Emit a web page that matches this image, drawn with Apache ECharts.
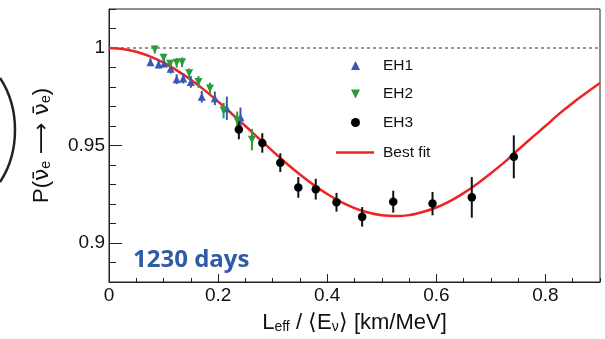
<!DOCTYPE html>
<html><head><meta charset="utf-8">
<script src="https://cdn.jsdelivr.net/npm/echarts@6/dist/echarts.min.js"></script>
<style>html,body{margin:0;padding:0;background:#fff}#c{width:605px;height:339px}</style>
</head><body><div id="c"></div>
<script>
// EH1 (blue, up triangles)
const eh1L = [0.076, 0.091, 0.101, 0.113, 0.124, 0.136, 0.150, 0.170, 0.194, 0.216, 0.241];
const eh1P = [0.9927, 0.9916, 0.9921, 0.9894, 0.9840, 0.9843, 0.9826, 0.9750, 0.9742, 0.9691, 0.9645];
const eh1E = [0.002, 0.002, 0.002, 0.0025, 0.0025, 0.0025, 0.003, 0.003, 0.0035, 0.006, 0.005];
// EH2 (green, down triangles)
const eh2L = [0.084, 0.100, 0.112, 0.124, 0.134, 0.147, 0.164, 0.185, 0.210, 0.235, 0.262];
const eh2P = [0.9992, 0.9950, 0.9919, 0.9924, 0.9927, 0.9870, 0.9826, 0.9792, 0.9679, 0.9628, 0.9530];
const eh2E = [0.002, 0.002, 0.002, 0.0025, 0.0025, 0.0025, 0.003, 0.003, 0.004, 0.0046, 0.0055];
// EH3 (black circles)
const eh3L = [0.238, 0.281, 0.314, 0.347, 0.379, 0.417, 0.464, 0.521, 0.593, 0.665, 0.742];
const eh3P = [0.9582, 0.9513, 0.9412, 0.9285, 0.9276, 0.9209, 0.9134, 0.9212, 0.9202, 0.9234, 0.9442];
const eh3E = [0.005, 0.005, 0.0048, 0.0053, 0.0053, 0.0048, 0.005, 0.0056, 0.006, 0.0104, 0.011];
// Best fit curve
const fitL = [0, 0.025, 0.05, 0.075, 0.10, 0.125, 0.15, 0.175, 0.20, 0.225, 0.25, 0.275, 0.30, 0.325, 0.35, 0.375,
  0.40, 0.425, 0.45, 0.475, 0.50, 0.525, 0.55, 0.575, 0.60, 0.625, 0.65, 0.675, 0.70, 0.725, 0.75, 0.775,
  0.80, 0.825, 0.85, 0.875, 0.90];
const fitP = [1.0, 0.9995, 0.9981, 0.9957, 0.9925, 0.9884, 0.9837, 0.9784, 0.9725, 0.9663, 0.9600, 0.9535,
  0.9471, 0.9409, 0.9351, 0.9298, 0.9251, 0.9211, 0.9179, 0.9156, 0.9142, 0.9138, 0.9143, 0.9159, 0.9182,
  0.9215, 0.9256, 0.9304, 0.9358, 0.9415, 0.9478, 0.9540, 0.9600, 0.9662, 0.9718, 0.9770, 0.9820];
// reference line and ticks
const refLineL = [0, 0.9];
const refLineP = [1, 1];
const xTicks = [0, 0.2, 0.4, 0.6, 0.8];
const yTicks = [0.9, 0.95, 1];

const zip2 = (a, b) => a.map((v, i) => [v, b[i]]);
const zip3 = (a, b, c) => a.map((v, i) => [v, b[i], c[i]]);

const BLUE = '#3a56b4', GREEN = '#2b9a3c', RED = '#ee2424';
const FONT = "'Liberation Sans', Arial, Helvetica, sans-serif";

function errRender(color) {
  return function (params, api) {
    const x = api.value(0), y = api.value(1), e = api.value(2);
    const p1 = api.coord([x, y - e]), p2 = api.coord([x, y + e]);
    return { type: 'line', shape: { x1: p1[0], y1: p1[1], x2: p2[0], y2: p2[1] },
      style: { stroke: color, lineWidth: 2 } };
  };
}

const chart = echarts.init(document.getElementById('c'), null, { renderer: 'canvas' });
const axisLabelStyle = { fontSize: 19, color: '#111', fontFamily: FONT };
const legendText = { fontSize: 15.5, color: '#111', fontFamily: FONT, lineHeight: 16 };

chart.setOption({
  animation: false,
  backgroundColor: '#fff',
  grid: { left: 109, right: 5, top: 9, bottom: 55, show: true, borderColor: '#222', borderWidth: 1, containLabel: false },
  title: {
    text: '1230 days', left: 128, top: 243,
    textStyle: { color: '#2f5aa6', fontSize: 24, fontWeight: 'bold', fontFamily: "'Open Sans', sans-serif" }
  },
  legend: [{
    orient: 'vertical', left: 346, top: 52.5, itemWidth: 9, itemHeight: 9, itemGap: 12.5,
    textStyle: { ...legendText, padding: [0, 0, 0, 18] },
    data: [{ name: 'EH1', icon: 'triangle' },
           { name: 'EH2', icon: 'path://M0,0 L10,0 L5,10 Z' },
           { name: 'EH3', icon: 'circle' }]
  }, {
    orient: 'vertical', left: 331, top: 139.5, itemWidth: 38, itemHeight: 2.5,
    textStyle: { ...legendText, padding: [0, 0, 0, 4] },
    data: [{ name: 'Best fit', icon: 'rect' }]
  }],
  graphic: [{
    type: 'bezierCurve',
    shape: { x1: 0, y1: 78, cpx1: 20, cpy1: 108, cpx2: 20, cpy2: 152, x2: 0, y2: 182 },
    style: { stroke: '#222', lineWidth: 2.5, fill: null }
  }],
  xAxis: [{
    type: 'value', min: 0, max: 0.9, position: 'bottom',
    axisLine: { show: true, lineStyle: { color: '#222', width: 1 } },
    axisTick: { show: true, inside: true, length: 8, customValues: xTicks, lineStyle: { color: '#222' } },
    axisLabel: { customValues: xTicks, margin: 4, ...axisLabelStyle, formatter: v => String(v) },
    splitLine: { show: false },
    name: '{l|L}{s|eff}{l| / ⟨E}{s|ν}{l|⟩ [km/MeV]}',
    nameLocation: 'middle', nameGap: 25,
    nameTextStyle: {
      rich: {
        l: { fontSize: 22, color: '#111', fontFamily: FONT, lineHeight: 27, verticalAlign: 'bottom' },
        s: { fontSize: 14, color: '#111', fontFamily: FONT, lineHeight: 14, verticalAlign: 'bottom' }
      }
    }
  }, {
    type: 'value', min: 0, max: 0.9, interval: 0.05, position: 'bottom',
    axisLine: { show: false }, axisLabel: { show: false }, splitLine: { show: false },
    axisTick: { show: true, inside: true, length: 4, lineStyle: { color: '#222' } }
  }],
  yAxis: [{
    type: 'value', min: 0.88, max: 1.02, position: 'left',
    axisLine: { show: true, lineStyle: { color: '#222', width: 1 } },
    axisTick: { show: true, inside: true, length: 13, customValues: yTicks, lineStyle: { color: '#222' } },
    axisLabel: { customValues: yTicks, margin: 4, ...axisLabelStyle, formatter: v => String(v) },
    splitLine: { show: false },
    name: '{l|P(}{v|ν̄}{s|e}{a| ⟶ }{v|ν̄}{s|e}{l|)}',
    nameLocation: 'middle', nameGap: 56,
    nameTextStyle: {
      rich: {
        l: { fontSize: 22, color: '#111', fontFamily: FONT, lineHeight: 27, verticalAlign: 'bottom' },
        a: { fontSize: 22, color: '#111', fontFamily: "'DejaVu Sans', sans-serif", lineHeight: 27, verticalAlign: 'bottom' },
        v: { fontSize: 22, color: '#111', fontFamily: "'DejaVu Sans', sans-serif", lineHeight: 27, verticalAlign: 'bottom' },
        s: { fontSize: 14, color: '#111', fontFamily: FONT, lineHeight: 14, verticalAlign: 'bottom' }
      }
    }
  }, {
    type: 'value', min: 0.88, max: 1.02, interval: 0.01, position: 'left',
    axisLine: { show: false }, axisLabel: { show: false }, splitLine: { show: false },
    axisTick: { show: true, inside: true, length: 7, lineStyle: { color: '#222' } }
  }],
  series: [
    { type: 'line', name: 'ref', data: zip2(refLineL, refLineP), symbol: 'none', silent: true, z: 1,
      lineStyle: { color: '#777', width: 1.5, type: [3, 3] } },
    { type: 'line', name: 'Best fit', data: zip2(fitL, fitP), smooth: 0.3, symbol: 'none', z: 2,
      lineStyle: { color: RED, width: 2.5 }, itemStyle: { color: RED } },
    { type: 'custom', name: 'e1', data: zip3(eh1L, eh1P, eh1E), renderItem: errRender(BLUE), encode: { x: 0, y: 1 }, z: 3 },
    { type: 'custom', name: 'e2', data: zip3(eh2L, eh2P, eh2E), renderItem: errRender(GREEN), encode: { x: 0, y: 1 }, z: 3 },
    { type: 'custom', name: 'e3', data: zip3(eh3L, eh3P, eh3E), renderItem: errRender('#111'), encode: { x: 0, y: 1 }, z: 3 },
    { type: 'scatter', name: 'EH1', data: zip2(eh1L, eh1P), symbol: 'triangle', symbolSize: 8, z: 4,
      itemStyle: { color: BLUE, opacity: 1 } },
    { type: 'scatter', name: 'EH2', data: zip2(eh2L, eh2P), symbol: 'triangle', symbolRotate: 180, symbolSize: 8, z: 4,
      itemStyle: { color: GREEN, opacity: 1 } },
    { type: 'scatter', name: 'EH3', data: zip2(eh3L, eh3P), symbol: 'circle', symbolSize: 8.5, z: 5,
      itemStyle: { color: '#000', opacity: 1 } }
  ]
});
</script></body></html>
